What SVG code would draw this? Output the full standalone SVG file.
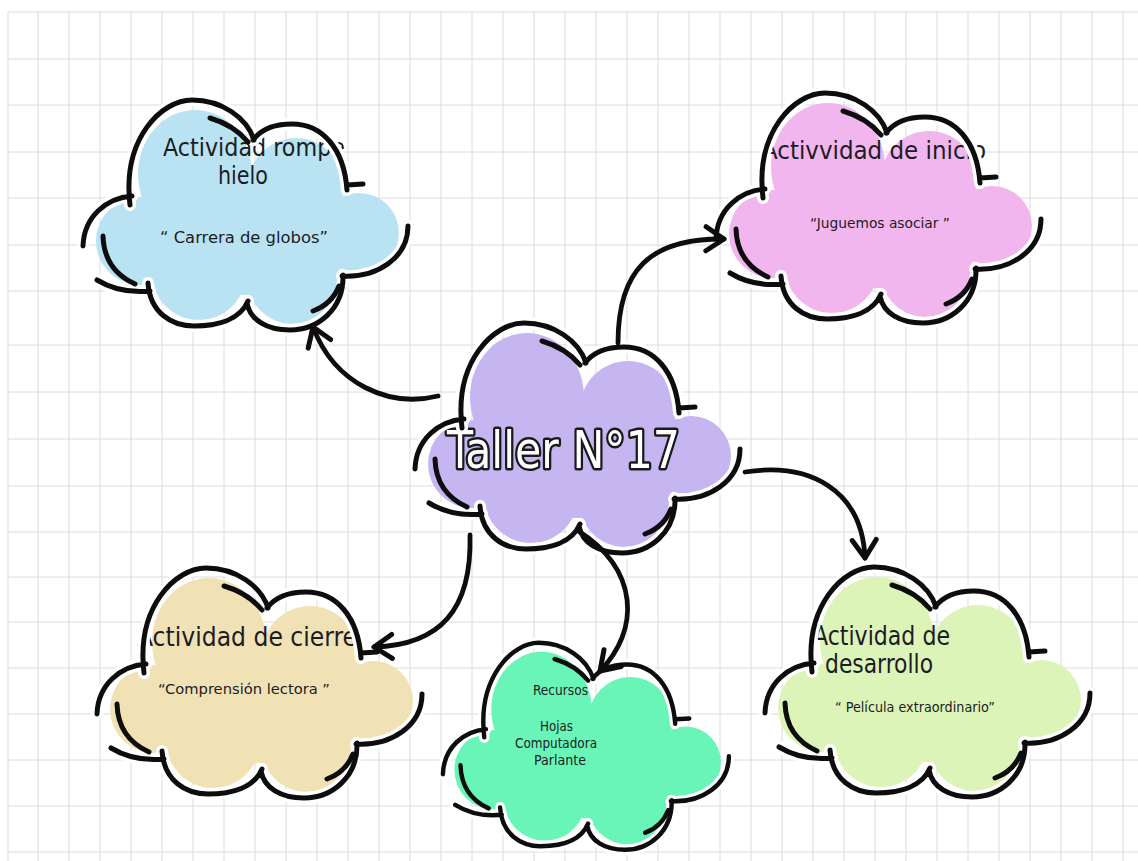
<svg xmlns="http://www.w3.org/2000/svg" xmlns:xlink="http://www.w3.org/1999/xlink" width="1138" height="861" viewBox="0 0 1138 861">
<style>
.grid{stroke:#dcdcdc;stroke-width:1;fill:none}
.halo{fill:none;stroke:#ffffff;stroke-width:12;stroke-linecap:round;stroke-linejoin:round}
.ink{fill:none;stroke:#0d0d0d;stroke-width:5;stroke-linecap:round;stroke-linejoin:round}
.conn{fill:none;stroke:#0d0d0d;stroke-width:4.8;stroke-linecap:round}
.t{font-family:"Liberation Sans Narrow","DejaVu Sans Condensed","Liberation Sans",sans-serif;fill:#1c1c24}
.h{font-size:25px}
.s{font-size:14px}
.title{font-family:"Liberation Sans Narrow","DejaVu Sans Condensed","Liberation Sans",sans-serif;font-size:52px;fill:#ffffff;stroke:#1a1a1a;stroke-width:5;paint-order:stroke fill;stroke-linejoin:round}
</style>
<defs>
<g id="lobes">
<ellipse cx="113" cy="76" rx="57" ry="64"/>
<circle cx="214" cy="88" r="48"/>
<circle cx="277" cy="135" r="40"/>
<circle cx="211" cy="180" r="46"/>
<circle cx="117" cy="175" r="47"/>
<circle cx="58" cy="143" r="44"/>
<ellipse cx="165" cy="135" rx="115" ry="62"/>
</g>
<g id="outline">
<path class="halo" d="M48,107 C40,40 80,2 110,2 C140,2 165,20 172,42 M171,42 C180,30 195,26 210,26 C240,26 262,50 265,92 M326,128 C326,160 295,180 260,178 M261,177 C262,212 235,232 208,232 C185,232 168,222 165,205 M66,185 C68,215 90,228 112,228 C135,228 158,222 166,203 M15,182 Q38,196 68,193 M50,98 C25,100 2,118 1,148"/>
<path class="ink" d="M48,107 C40,40 80,2 110,2 C140,2 165,20 172,42 M171,42 C180,30 195,26 210,26 C240,26 262,50 265,92 M265,87 L281,86 M326,128 C326,160 295,180 260,178 M261,177 C262,212 235,232 208,232 C185,232 168,222 165,205 M66,185 C68,215 90,228 112,228 C135,228 158,222 166,203 M15,182 Q38,196 68,193 M50,98 C25,100 2,118 1,148"/>
<path class="ink" d="M128,20 Q152,27 166,44 M21,138 Q22,172 53,186 M257,188 Q250,206 231,213"/>
</g>
<marker id="arrow" viewBox="0 0 26 26" refX="21" refY="13" markerWidth="26" markerHeight="26" markerUnits="userSpaceOnUse" orient="auto" overflow="visible">
<path d="M3,1 L21,13 L3,25" fill="none" stroke="#0d0d0d" stroke-width="5" stroke-linecap="round" stroke-linejoin="round"/>
</marker>
</defs>
<rect width="1138" height="861" fill="#ffffff"/>
<g id="grid">
<path class="grid" d="M8,12 V861 M38,12 V861 M69,12 V861 M100,12 V861 M131,12 V861 M162,12 V861 M193,12 V861 M224,12 V861 M255,12 V861 M286,12 V861 M317,12 V861 M348,12 V861 M379,12 V861 M410,12 V861 M441,12 V861 M472,12 V861 M503,12 V861 M534,12 V861 M565,12 V861 M596,12 V861 M627,12 V861 M658,12 V861 M689,12 V861 M720,12 V861 M751,12 V861 M782,12 V861 M813,12 V861 M844,12 V861 M875,12 V861 M906,12 V861 M937,12 V861 M968,12 V861 M999,12 V861 M1030,12 V861 M1061,12 V861 M1092,12 V861 M1123,12 V861"/>
<path class="grid" d="M8,12 H1138 M8,59 H1138 M8,105 H1138 M8,152 H1138 M8,198 H1138 M8,245 H1138 M8,291 H1138 M8,345 H1138 M8,392 H1138 M8,439 H1138 M8,486 H1138 M8,532 H1138 M8,577 H1138 M8,622 H1138 M8,668 H1138 M8,714 H1138 M8,760 H1138 M8,806 H1138 M8,852 H1138"/>
</g>
<g id="node-rompe-hielo">
<use xlink:href="#lobes" transform="translate(82,98)" fill="#b9e3f3"/>
<text class="t h" x="163" y="156" textLength="182" lengthAdjust="spacingAndGlyphs">Actividad rompe</text>
<text class="t h" x="218" y="184" textLength="50" lengthAdjust="spacingAndGlyphs">hielo</text>
<text class="t" style="font-size:16px" x="160" y="243" textLength="168" lengthAdjust="spacingAndGlyphs">“ Carrera de globos”</text>
<use xlink:href="#outline" transform="translate(82,98)"/>
</g>
<g id="node-inicio">
<use xlink:href="#lobes" transform="translate(715,91)" fill="#f1b6ee"/>
<text class="t h" x="762" y="159" textLength="224" lengthAdjust="spacingAndGlyphs">Activvidad de inicio</text>
<text class="t s" x="810" y="228" textLength="140" lengthAdjust="spacingAndGlyphs">“Juguemos asociar ”</text>
<use xlink:href="#outline" transform="translate(715,91)"/>
</g>
<g id="node-taller">
<use xlink:href="#lobes" transform="translate(414,321)" fill="#c5b6f2"/>
<text class="title" x="447" y="468" textLength="233" lengthAdjust="spacingAndGlyphs">Taller N°17</text>
<use xlink:href="#outline" transform="translate(414,321)"/>
</g>
<g id="node-cierre">
<use xlink:href="#lobes" transform="translate(96,566)" fill="#f1e2b6"/>
<text class="t h" style="font-size:26px" x="137" y="646" textLength="220" lengthAdjust="spacingAndGlyphs">Actividad de cierre</text>
<text class="t s" x="158" y="694" textLength="172" lengthAdjust="spacingAndGlyphs">“Comprensión lectora ”</text>
<use xlink:href="#outline" transform="translate(96,566)"/>
</g>
<g id="node-recursos">
<use xlink:href="#lobes" transform="translate(442,641) scale(0.88,0.9)" fill="#69f5b8"/>
<text class="t s" x="533" y="695" textLength="55" lengthAdjust="spacingAndGlyphs">Recursos</text>
<text class="t s" x="540" y="731" textLength="33" lengthAdjust="spacingAndGlyphs">Hojas</text>
<text class="t s" x="515" y="748" textLength="82" lengthAdjust="spacingAndGlyphs">Computadora</text>
<text class="t s" x="534" y="765" textLength="52" lengthAdjust="spacingAndGlyphs">Parlante</text>
<use xlink:href="#outline" transform="translate(442,641) scale(0.88,0.9)"/>
</g>
<g id="node-desarrollo">
<use xlink:href="#lobes" transform="translate(764,565)" fill="#dcf4b8"/>
<text class="t h" style="font-size:26px" x="813" y="645" textLength="137" lengthAdjust="spacingAndGlyphs">Actividad de</text>
<text class="t h" style="font-size:26px" x="825" y="673" textLength="108" lengthAdjust="spacingAndGlyphs">desarrollo</text>
<text class="t s" x="835" y="712" textLength="160" lengthAdjust="spacingAndGlyphs">“ Película extraordinario”</text>
<use xlink:href="#outline" transform="translate(764,565)"/>
</g>
<g id="connectors">
<path class="conn" marker-end="url(#arrow)" d="M438,396 C390,408 335,385 313,327"/>
<path class="conn" marker-end="url(#arrow)" d="M618,343 C618,270 650,238 724,239"/>
<path class="conn" marker-end="url(#arrow)" d="M745,472 C810,462 862,490 865,558"/>
<path class="conn" marker-end="url(#arrow)" d="M470,535 C472,610 440,645 374,647"/>
<path class="conn" marker-end="url(#arrow)" d="M577,530 C640,570 640,630 600,671"/>
</g>
</svg>
